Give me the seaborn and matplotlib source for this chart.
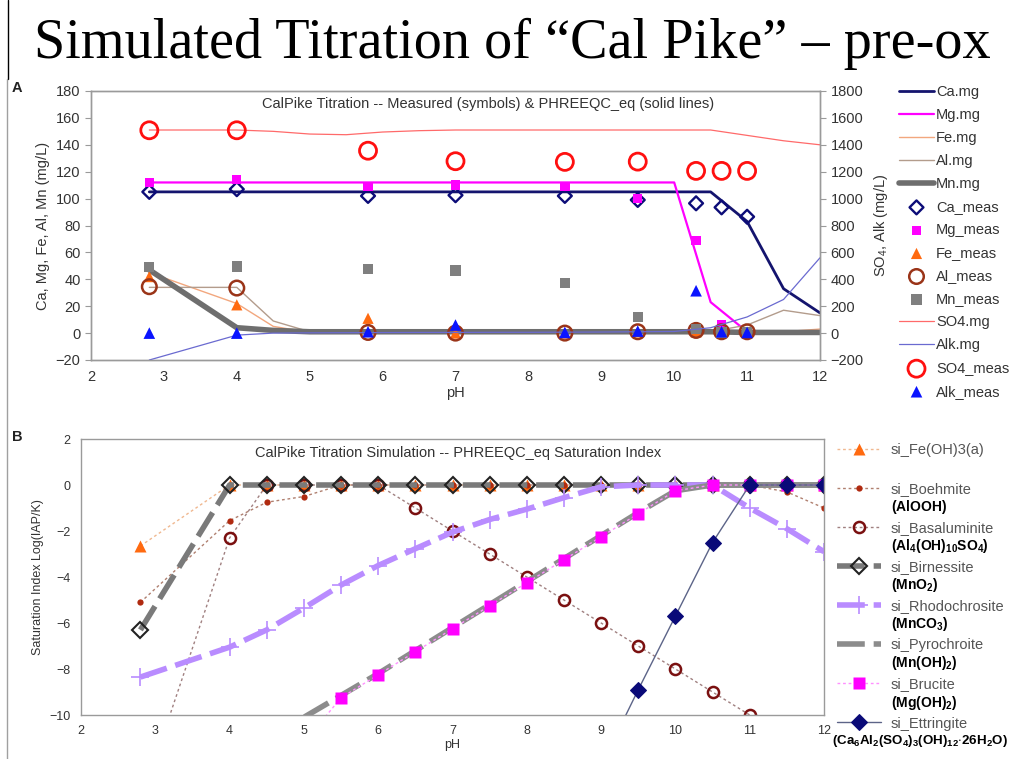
import matplotlib
matplotlib.use("Agg")
import matplotlib.pyplot as plt
from matplotlib.lines import Line2D
import seaborn as sns

# ==========================================
# DATA
# ==========================================
# model grid (PHREEQC_eq)
ph_model = [2.8, 4, 4.5, 5, 5.5, 6, 6.5, 7, 7.5, 8, 8.5, 9, 9.5, 10, 10.5, 11, 11.5, 12]

# panel A - model lines, left axis (mg/L)
ca_mg = [105, 105, 105, 105, 105, 105, 105, 105, 105, 105, 105, 105, 105, 105, 105, 83, 33, 15]
mg_mg = [112, 112, 112, 112, 112, 112, 112, 112, 112, 112, 112, 112, 112, 112, 23, 1, 0, 0]
fe_mg = [45, 22, 5, 0.5, 0, 0, 0, 0, 0, 0, 0, 0, 0, 0, 0, 0, 1, 3]
al_mg = [34, 34, 9, 1, 0.5, 0.5, 0.5, 0.5, 0.5, 0.5, 0.5, 0.5, 0.5, 0.5, 1, 6, 17, 13]
mn_mg = [47, 4, 2, 1, 1, 1, 1, 1, 1, 1, 1, 1, 1, 1, 1, 0.5, 0.5, 0.5]
# panel A - model lines, right axis (mg/L)
so4_mg = [1510, 1510, 1500, 1480, 1475, 1495, 1505, 1510, 1510, 1510, 1510, 1510, 1510, 1510, 1510, 1470, 1430, 1400]
alk_mg = [-200, -15, 0, 2, 3, 4, 5, 5, 6, 6, 7, 8, 10, 12, 40, 120, 250, 560]

# panel A - measured samples
ph_meas = [2.8, 4, 5.8, 7, 8.5, 9.5, 10.3, 10.65, 11.0]
ca_meas = [105, 107, 102, 102.5, 102, 99, 96.5, 93.5, 86.5]
mg_meas = [112, 114, 109, 110, 109, 100, 69, 6, 1]
fe_meas = [42, 21, 11, 0, 0, 1, 1, 0.5, 0.5]
al_meas = [34.5, 33.5, 0.5, 0, 0, 1, 2, 1, 1]
mn_meas = [49, 49.5, 47.5, 46.5, 37.5, 12, 3, 0.5, 0.5]
so4_meas = [1508, 1508, 1356, 1278, 1273, 1275, 1206, 1206, 1206]
alk_meas = [0, 0, 10, 60, 5, 15, 315, 10, 5]

# panel B - saturation indices
si_feoh3 = [-2.65, 0, 0, 0, 0, 0, 0, 0, 0, 0, 0, 0, 0, 0, 0, 0, 0, 0]
si_boehmite = [-5.1, -1.55, -0.75, -0.5, 0, 0, 0, 0, 0, 0, 0, 0, 0, 0, 0, 0, -0.3, -1.0]
si_basaluminite = [-13.8, -2.3, 0, 0, 0, 0, -1.0, -2.0, -3.0, -4.0, -5.0, -6.0, -7.0, -8.0, -9.0, -10.0, -11.0, -12.0]
si_birnessite = [-6.3, 0, 0, 0, 0, 0, 0, 0, 0, 0, 0, 0, 0, 0, 0, 0, 0, 0]
si_rhodochrosite = [-8.35, -7.05, -6.3, -5.35, -4.35, -3.5, -2.77, -2.05, -1.5, -1.05, -0.55, -0.08, 0, 0, 0, -1.0, -1.9, -2.9]
si_pyrochroite = [-16, -12.5, -11.2, -10.1, -9.15, -8.2, -7.2, -6.2, -5.2, -4.2, -3.2, -2.2, -1.2, -0.25, 0, 0, 0, 0]
si_brucite = [-17.5, -13.2, -12.2, -11.2, -9.25, -8.25, -7.25, -6.25, -5.25, -4.25, -3.25, -2.25, -1.25, -0.25, 0, 0, 0, 0]
ph_ettringite = [9, 9.5, 10, 10.5, 11, 11.5, 12]
si_ettringite = [-12.2, -8.9, -5.7, -2.5, 0, 0, 0]

formulas = [None,
            r"$\mathbf{(AlOOH)}$",
            r"$\mathbf{(Al_4(OH)_{10}SO_4)}$",
            r"$\mathbf{(MnO_2)}$",
            r"$\mathbf{(MnCO_3)}$",
            r"$\mathbf{(Mn(OH)_2)}$",
            r"$\mathbf{(Mg(OH)_2)}$",
            r"$\mathbf{(Ca_6Al_2(SO_4)_3(OH)_{12}{\cdot}26H_2O)}$"]

# ==========================================
# STYLE
# ==========================================
sns.set_theme(style="white")
plt.rcParams["font.family"] = ["Liberation Sans", "DejaVu Sans"]
plt.rcParams["mathtext.fontset"] = "custom"
plt.rcParams["mathtext.bf"] = "Liberation Sans:bold"
plt.rcParams["mathtext.rm"] = "Liberation Sans"

W, H = 1013, 759
fig = plt.figure(figsize=(W / 100, H / 100), dpi=100)
fig.patch.set_facecolor("white")

ax = fig.add_axes([91 / W, 1 - 360 / H, 729 / W, 269 / H])
ax2 = ax.twinx()
bx = fig.add_axes([81 / W, 1 - 715 / H, 743 / W, 276 / H])


def style_axes(a, size):
    for s in a.spines.values():
        s.set_color("#9a9a9a")
        s.set_linewidth(1.0)
    a.tick_params(axis="both", colors="#9a9a9a", labelcolor="#333333",
                  labelsize=size, length=4, width=0.8, direction="out")
    a.grid(False)


# ---------- panel A ----------
thin = dict(sort=False, estimator=None, legend=False, ax=ax)
sns.lineplot(x=ph_model, y=ca_mg, color="#14146e", lw=2, label="Ca.mg", **thin)
sns.lineplot(x=ph_model, y=mg_mg, color="#ff00ff", lw=1.6, label="Mg.mg", **thin)
sns.lineplot(x=ph_model, y=fe_mg, color="#f2a77e", lw=1, label="Fe.mg", **thin)
sns.lineplot(x=ph_model, y=al_mg, color="#b39c8c", lw=1, label="Al.mg", **thin)
sns.lineplot(x=ph_model, y=mn_mg, color="#6e6e6e", lw=4, label="Mn.mg", **thin)

sns.scatterplot(x=ph_meas, y=ca_meas, ax=ax, marker="D", s=50, facecolor="none",
                edgecolor="#0c0c78", linewidth=1.7, label="Ca_meas", legend=False, zorder=5)
sns.scatterplot(x=ph_meas, y=mg_meas, ax=ax, marker="s", s=45, facecolor="#ff00ff",
                edgecolor="none", label="Mg_meas", legend=False, zorder=5)
sns.scatterplot(x=ph_meas, y=fe_meas, ax=ax, marker="^", s=65, facecolor="#ff6a10",
                edgecolor="none", label="Fe_meas", legend=False, zorder=5)
sns.scatterplot(x=ph_meas, y=al_meas, ax=ax, marker="o", s=110, facecolor="none",
                edgecolor="#9a3418", linewidth=1.8, label="Al_meas", legend=False, zorder=5)
sns.scatterplot(x=ph_meas, y=mn_meas, ax=ax, marker="s", s=55, facecolor="#7f7f7f",
                edgecolor="none", label="Mn_meas", legend=False, zorder=5)

sns.lineplot(x=ph_model, y=so4_mg, ax=ax2, color="#ff6a6a", lw=0.9, sort=False,
             estimator=None, legend=False, label="SO4.mg")
sns.lineplot(x=ph_model, y=alk_mg, ax=ax2, color="#6a6ad0", lw=0.9, sort=False,
             estimator=None, legend=False, label="Alk.mg")
sns.scatterplot(x=ph_meas, y=so4_meas, ax=ax2, marker="o", s=150, facecolor="none",
                edgecolor="#ff1010", linewidth=2, label="SO4_meas", legend=False, zorder=5)
sns.scatterplot(x=ph_meas, y=alk_meas, ax=ax2, marker="^", s=70, facecolor="#0a14ff",
                edgecolor="none", label="Alk_meas", legend=False, zorder=6)

ax.set_xlim(2, 12)
ax.set_ylim(-20, 180)
ax.set_yticks(range(-20, 181, 20))
ax.set_xticks(range(2, 13))
ax2.set_ylim(-200, 1800)
ax2.set_yticks(range(-200, 1801, 200))
ax.set_xlabel("pH", fontsize=10.5, color="#333333", labelpad=1)
ax.set_ylabel("Ca, Mg, Fe, Al, Mn (mg/L)", fontsize=10.5, color="#333333", labelpad=4)
ax2.set_ylabel(r"SO$_4$, Alk (mg/L)", fontsize=10.5, color="#333333", labelpad=6)
for a in (ax, ax2):
    style_axes(a, 10.5)
ax.text(0.545, 0.953, "CalPike Titration -- Measured (symbols) & PHREEQC_eq (solid lines)",
        transform=ax.transAxes, ha="center", va="center", fontsize=10.5, color="#333333")

h1, l1 = ax.get_legend_handles_labels()
h2, l2 = ax2.get_legend_handles_labels()
lookup = dict(zip(l1 + l2, h1 + h2))
order_a = ["Ca.mg", "Mg.mg", "Fe.mg", "Al.mg", "Mn.mg", "Ca_meas", "Mg_meas", "Fe_meas",
           "Al_meas", "Mn_meas", "SO4.mg", "Alk.mg", "SO4_meas", "Alk_meas"]
leg_a = fig.legend([lookup[k] for k in order_a], order_a, loc="upper left",
                   bbox_to_anchor=(899 / W, 1 - 85 / H), frameon=False, fontsize=10.5,
                   handlelength=2.4, handletextpad=0.15, labelspacing=0.62,
                   borderaxespad=0, borderpad=0)
for t in leg_a.get_texts():
    t.set_color("#333333")

# ---------- panel B ----------
dot = (0, (2, 2))
dash = (0, (5, 1.6))
kw = dict(sort=False, estimator=None, legend=False, ax=bx)
sns.lineplot(x=ph_model, y=si_feoh3, color="#f0b890", lw=1, linestyle=dot, marker="^",
             markersize=8, markerfacecolor="#ff6a10", markeredgecolor="none",
             label="si_Fe(OH)3(a)", **kw)
sns.lineplot(x=ph_model, y=si_boehmite, color="#b08070", lw=1, linestyle=dot, marker="o",
             markersize=4.5, markerfacecolor="#b02a10", markeredgecolor="none",
             label="si_Boehmite", **kw)
sns.lineplot(x=ph_model, y=si_basaluminite, color="#a08080", lw=1, linestyle=dot, marker="o",
             markersize=8, markerfacecolor="none", markeredgecolor="#7a1010",
             markeredgewidth=1.8, label="si_Basaluminite", **kw)
sns.lineplot(x=ph_model, y=si_birnessite, color="#7a7a7a", lw=4, linestyle=dash, marker="D",
             markersize=8, markerfacecolor="none", markeredgecolor="#222222",
             markeredgewidth=1.5, label="si_Birnessite", **kw)
sns.lineplot(x=ph_model, y=si_rhodochrosite, color="#b98cff", lw=4, linestyle=dash, marker="+",
             markersize=13, markeredgewidth=1.2, markeredgecolor="#b98cff",
             label="si_Rhodochrosite", **kw)
sns.lineplot(x=ph_model, y=si_pyrochroite, color="#8c8c8c", lw=4, linestyle=dash,
             label="si_Pyrochroite", **kw)
sns.lineplot(x=ph_model, y=si_brucite, color="#ff90ff", lw=1, linestyle=dot, marker="s",
             markersize=8, markerfacecolor="#ff00ff", markeredgecolor="none",
             label="si_Brucite", **kw)
sns.lineplot(x=ph_ettringite, y=si_ettringite, color="#5c6488", lw=1, marker="D",
             markersize=8, markerfacecolor="#0a0a78", markeredgecolor="#0a0a78",
             label="si_Ettringite", **kw)

bx.set_xlim(2, 12)
bx.set_ylim(-10, 2)
bx.set_xticks(range(2, 13))
bx.set_yticks(range(-10, 3, 2))
bx.set_xlabel("pH", fontsize=9, color="#333333", labelpad=1)
bx.set_ylabel("Saturation Index Log(IAP/K)", fontsize=9, color="#333333", labelpad=4)
style_axes(bx, 9)
bx.text(0.507, 0.949, "CalPike Titration Simulation -- PHREEQC_eq Saturation Index",
        transform=bx.transAxes, ha="center", va="center", fontsize=10.5, color="#333333")

hb, lb = bx.get_legend_handles_labels()
leg_b = fig.legend(hb, lb, loc="upper left", bbox_to_anchor=(837 / W, 1 - 443 / H),
                   frameon=False, fontsize=10.5, handlelength=3.0, handletextpad=0.7,
                   labelspacing=1.72, borderaxespad=0, borderpad=0)
for t in leg_b.get_texts():
    t.set_color("#555555")

# formula sub-labels under the legend entries
fig.canvas.draw()
for t, f in zip(leg_b.get_texts(), formulas):
    if f is None:
        continue
    bb = t.get_window_extent()
    if "Ca_6" in f:
        # the long ettringite formula is right-aligned to the page edge
        fig.text(1008 / W, (bb.y0 - 2) / H, f, ha="right", va="top", fontsize=9.6, color="black")
    else:
        fig.text(bb.x0 / W, (bb.y0 - 2) / H, f, ha="left", va="top", fontsize=10, color="black")

# ---------- page decoration ----------
fig.text(0.506, 1 - 44 / H, "Simulated Titration of \u201cCal Pike\u201d \u2013 pre-ox",
         ha="center", va="center", fontsize=40.5, family="Liberation Serif", color="black")
fig.text(12 / W, 1 - 88 / H, "A", fontsize=10.5, fontweight="bold", color="#222222", va="center")
fig.text(12 / W, 1 - 437 / H, "B", fontsize=10.5, fontweight="bold", color="#222222", va="center")
fig.add_artist(Line2D([8 / W, 8 / W], [1, 1 - 79 / H], color="black", lw=1))
fig.add_artist(Line2D([7 / W, 7 / W], [1 - 79 / H, 0], color="#a0a0a0", lw=1))

fig.savefig("out.png", dpi=100)
